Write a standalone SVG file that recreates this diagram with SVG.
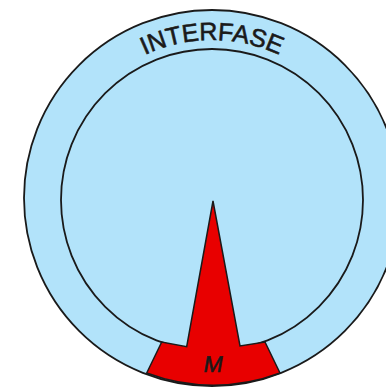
<svg xmlns="http://www.w3.org/2000/svg" width="386" height="387" viewBox="0 0 386 387">
  <style>
    .ring { fill: #B2E3FA; stroke: #1a1a1a; stroke-width: 1.8; }
    .line { fill: none; stroke: #1a1a1a; stroke-width: 1.8; }
    .wedge { fill: #E80000; stroke: #1a1a1a; stroke-width: 1.5; stroke-linejoin: miter; }
    .lbl { font-family: "Liberation Sans", Arial, sans-serif; fill: #1a1a1a; stroke: #1a1a1a; stroke-width: 0.6; }
  </style>
  <defs>
    <path id="arcText" d="M 52,200 A 159 159 0 0 1 372,200"/>
  </defs>
  <rect width="386" height="387" fill="#ffffff"/>
  <g id="interfase">
    <circle class="ring" cx="212" cy="198" r="188"/>
    <circle class="line" cx="212" cy="200" r="151"/>
    <text class="lbl" font-size="25"><textPath href="#arcText" startOffset="50%" text-anchor="middle">INTERFASE</textPath></text>
  </g>
  <g id="mitosis">
    <path class="wedge" d="M 213,201 L 240,346 L 265,342 L 280,373 A 188 188 0 0 1 146.7,373 L 161.7,342 L 186.7,346.7 Z"/>
    <text class="lbl" x="212" y="372" font-size="23" text-anchor="middle" transform="skewX(-10) translate(65.6,0)">M</text>
  </g>
</svg>
